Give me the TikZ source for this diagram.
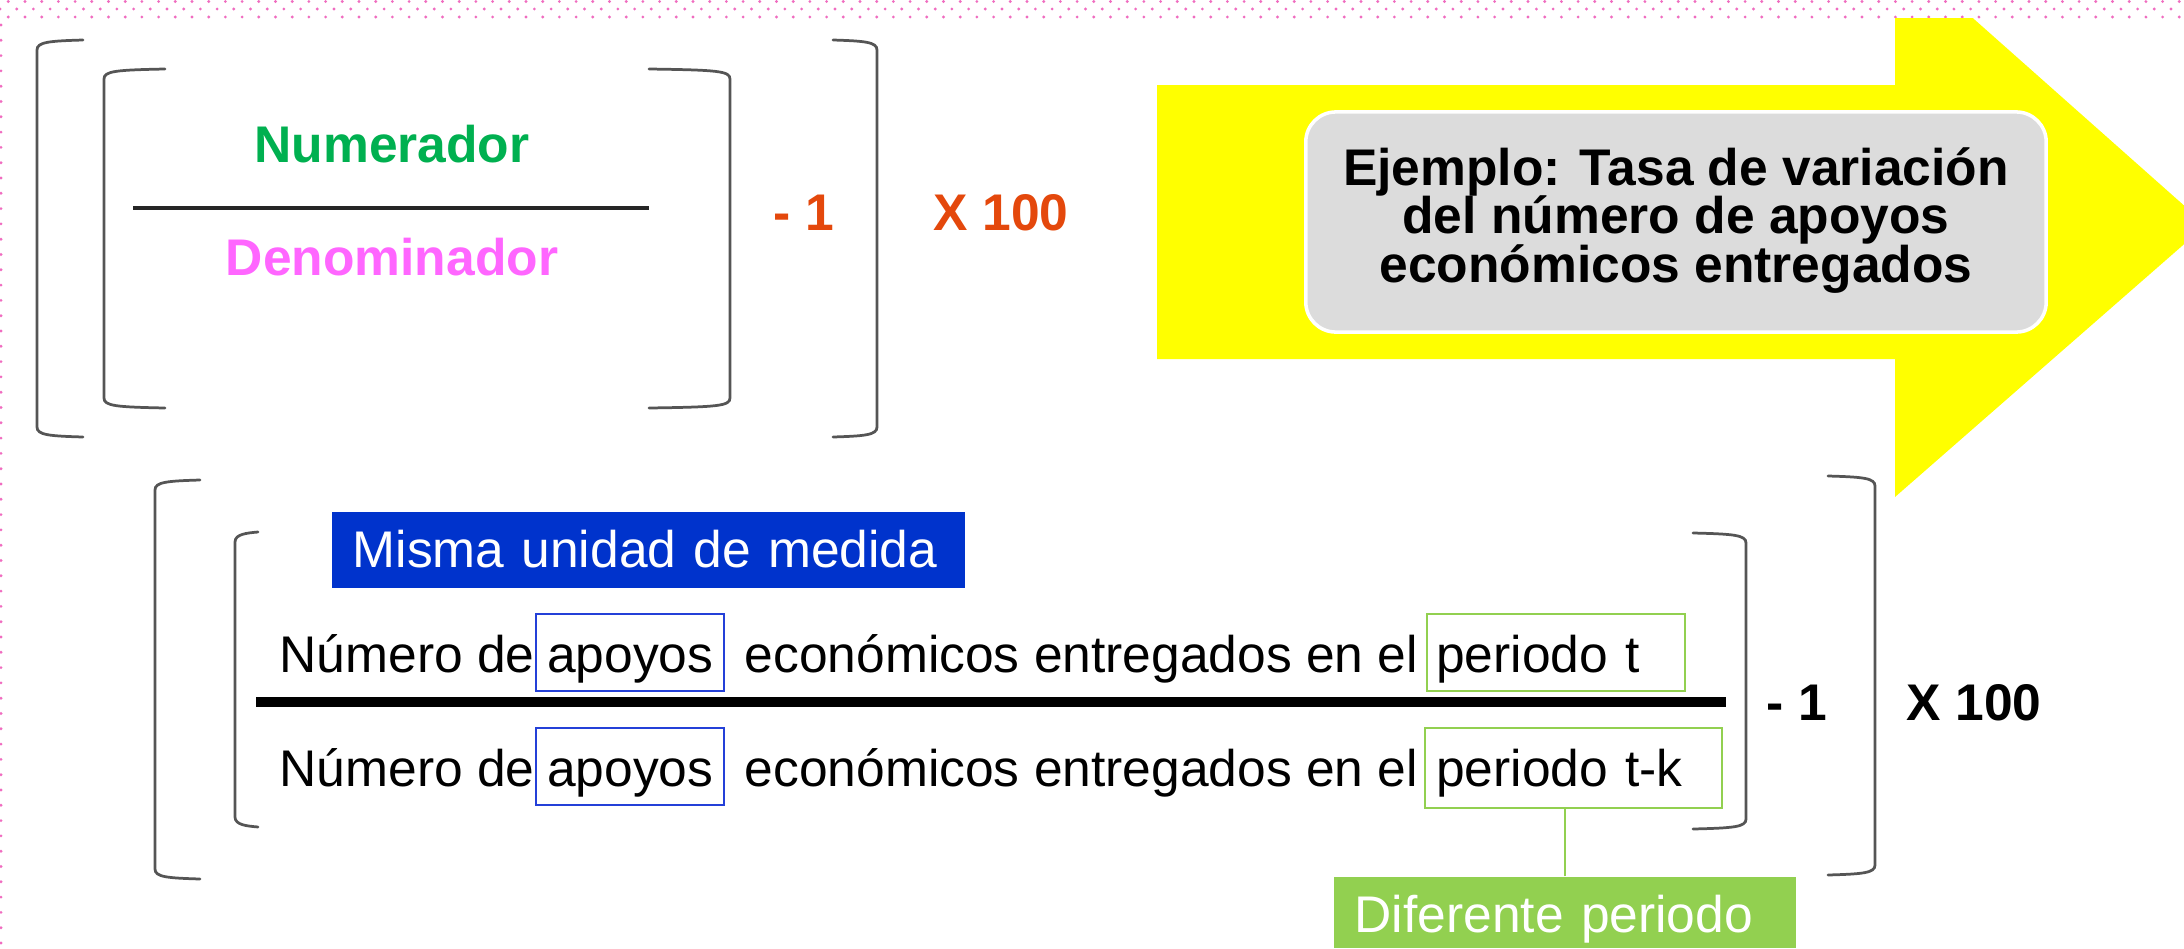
\documentclass[tikz,border=0pt]{standalone}
\usepackage{fontspec}
\setmainfont{Liberation Sans}
\definecolor{dotpink}{HTML}{F06CC0}
\definecolor{numgreen}{HTML}{00B050}
\definecolor{denpink}{HTML}{FF66FF}
\definecolor{opred}{HTML}{E4480C}
\definecolor{arrowyellow}{HTML}{FFFF00}
\definecolor{boxgray}{HTML}{DCDCDC}
\definecolor{brkgray}{HTML}{555555}
\definecolor{misblue}{HTML}{0033CC}
\definecolor{outblue}{HTML}{2440D8}
\definecolor{difgreen}{HTML}{92D050}
\newcommand{\mylbr}[4]{% x, ytop, ybottom, serif end x
  \draw[brk] (#4,#2-2) .. controls ({#1+12},{#2-1}) and (#1,#2) .. (#1,{#2+8})
    -- (#1,{#3-8}) .. controls (#1,#3) and ({#1+12},{#3+1}) .. (#4,{#3+2});}
\newcommand{\myrbr}[4]{% x, ytop, ybottom, serif start x
  \draw[brk] (#4,#2-2) .. controls ({#1-12},{#2-1}) and (#1,#2) .. (#1,{#2+8})
    -- (#1,{#3-8}) .. controls (#1,#3) and ({#1-12},{#3+1}) .. (#4,{#3+2});}
\begin{document}
\begin{tikzpicture}[x=0.01cm,y=-0.01cm,
  txt/.style={inner sep=0pt,font=\fontsize{14.66pt}{17pt}\selectfont},
  btxt/.style={txt,font=\fontsize{14.66pt}{17pt}\selectfont\bfseries},
  brk/.style={draw=brkgray,line width=0.78pt,line cap=round},
  wordbox/.style={txt,draw=outblue,line width=0.6pt,inner xsep=0.11cm,inner ysep=0pt,
    text height=0.58cm,text depth=0.19cm,anchor=base west},
  perbox/.style={wordbox,draw=difgreen,align=left},
  label/.style={txt,text=white,inner ysep=0pt,align=left,anchor=base west},
]
\useasboundingbox (0,0) rectangle (2184,948);
\fill[white] (0,0) rectangle (2184,948);
% pink dotted border
\foreach \k in {0,...,131}{
  \fill[dotpink] ({8.3+16.7*\k},1.5) circle[radius=0.45pt];
  \fill[dotpink] ({16.7*\k},9) circle[radius=0.45pt];
  \fill[dotpink] ({8.3+16.7*\k},17) circle[radius=0.45pt];
}
\foreach \k in {0,...,60}{
  \fill[dotpink] (1,{25+15.3*\k}) circle[radius=0.45pt];
}
% yellow arrow
\begin{scope}
  \clip (0,18) rectangle (2184,948);
  \fill[arrowyellow] (1157,85) -- (1895,85) -- (1895,-51) -- (2206,225)
    -- (1895,497) -- (1895,359) -- (1157,359) -- cycle;
\end{scope}
% gray example box
\node[draw=white,line width=1pt,fill=boxgray,rounded corners=0.3cm,
  minimum width=7.40cm,minimum height=2.20cm,inner sep=0pt] (ejbox) at (1676,222) {};
\node[btxt,anchor=base] (ej1) at (1676,185) {Ejemplo: Tasa de variación};
\node[btxt,anchor=base] (ej2) at (1676,233) {del número de apoyos};
\node[btxt,anchor=base] (ej3) at (1676,282) {económicos entregados};
% ---------- top formula ----------
\mylbr{37}{42}{435}{83}
\mylbr{104}{71}{406}{165}
\myrbr{730}{71}{406}{649}
\myrbr{877}{42}{435}{833}
\coordinate (fl) at (133,208);
\coordinate (fr) at (649,208);
\draw[draw=black!85,line width=1pt] (fl) -- (fr);
\node[btxt,text=numgreen,anchor=base] (num) at (392,162) {Numerador};
\node[btxt,text=denpink,anchor=base] (den) at (392,275) {Denominador};
\node[btxt,text=opred,anchor=base west] (m1) at (773,230) {- 1};
\node[btxt,text=opred,anchor=base west] (x1) at (933,230) {X 100};
% ---------- bottom formula ----------
\mylbr{155}{482}{877}{200}
\mylbr{235}{534}{825}{258}
\myrbr{1746}{535}{827}{1693}
\myrbr{1875}{478}{873}{1828}
\node[label,fill=misblue,inner xsep=0.21cm,text width=5.91cm,
  text height=0.55cm,text depth=0.21cm] (misma) at (331,567) {Misma unidad de medida};
% numerator
\node[txt,anchor=base west] (n1a) at (279,672) {Número de};
\node[wordbox] (apo1) at (535,672) {apoyos};
\node[txt,anchor=base west] (n1b) at (744,672) {económicos entregados en el};
\node[perbox,inner xsep=0.09cm,text width=2.40cm] (per1) at (1426,672) {periodo t};
% fraction bar
\coordinate (bl) at (256,702);
\coordinate (br) at (1726,702);
\draw[line width=0.1cm] (bl) -- (br);
% denominator
\node[txt,anchor=base west] (n2a) at (279,786) {Número de};
\node[wordbox] (apo2) at (535,786) {apoyos};
\node[txt,anchor=base west] (n2b) at (744,786) {económicos entregados en el};
\node[perbox,inner xsep=0.11cm,text width=2.75cm,text depth=0.22cm] (per2) at (1424,786) {periodo t-k};
\node[btxt,anchor=base west] (m2) at (1766,720) {- 1};
\node[btxt,anchor=base west] (x2) at (1906,720) {X 100};
% diferente periodo
\node[label,fill=difgreen,inner xsep=0.21cm,text width=4.20cm,
  text height=0.55cm,text depth=0.16cm] (dif) at (1333,932) {Diferente periodo};
\draw[difgreen,line width=0.6pt] (dif.north) -- (dif.north |- per2.south);
\end{tikzpicture}
\end{document}
